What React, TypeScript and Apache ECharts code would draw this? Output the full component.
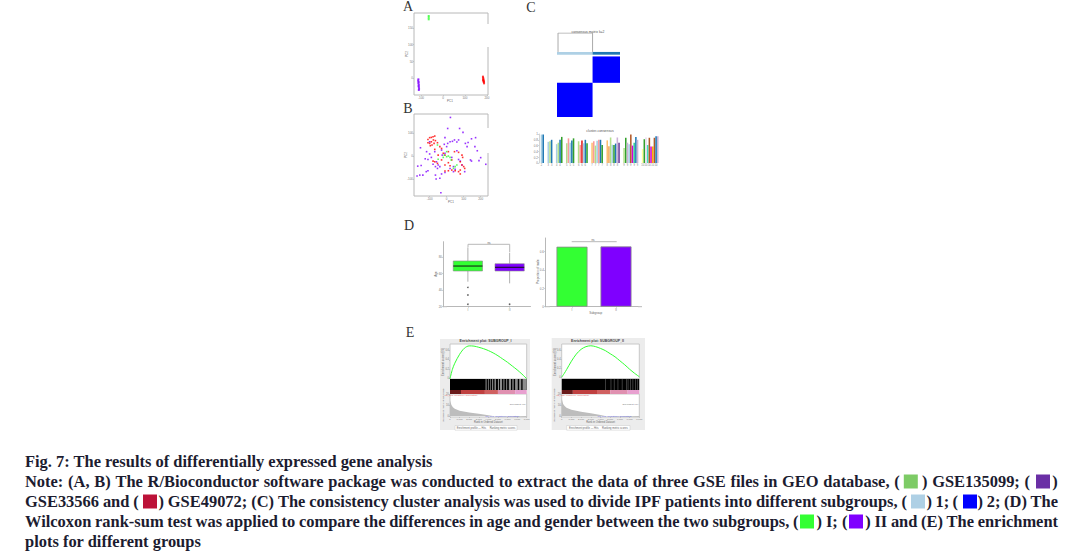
import React, { useEffect, useRef } from "react";
import * as echarts from "echarts";

// ---------- Panel A ----------
const pcaAGreen = [[-65, 186], [-65, 181], [-65, 176]];
const pcaAPurple = [[-112, -4], [-113, -8], [-111, -12], [-112, -16], [-110, -20], [-111, -24], [-110, -28], [-109, -32], [-110, -36]];
const pcaARed = [[182, 4], [183, 0], [184, -4], [185, -8], [186, -12], [187, -16], [185, -10], [183, -6]];

// ---------- Panel B ----------
const pcaBPurple = [[22,168],[6,120],[76,120],[96,103],[-10,80],[146,75],[170,80],[-154,36],[-100,62],[-14,51],[6,55],[20,62],[34,64],[46,70],[60,61],[70,70],[110,55],[126,59],[120,41],[166,41],[180,23],[140,-17],[190,-20],[200,-7],[230,-36],[146,-22],[-126,-12],[-110,-15],[-90,-6],[-118,19],[-100,9],[-70,19],[-60,-25],[-50,-39],[-66,-46],[-54,-54],[-40,-46],[-80,-36],[-170,-44],[-150,-41],[-174,-87],[-158,-83],[-140,-83],[-120,-68],[-110,-64],[-66,-83],[-40,-97],[-62,-100],[-30,-78],[-34,-160],[-10,-72],[20,-54],[40,-46],[50,-58],[70,-15],[80,-22],[30,-6],[-10,12],[-30,26],[0,41],[60,23],[-26,4],[40,-68],[90,-39],[106,-68]];
const pcaBRed = [[-110,72],[-100,80],[-90,81],[-80,84],[-70,87],[-110,58],[-100,55],[-90,62],[-78,70],[-66,67],[-96,45],[-86,48],[-74,55],[-54,58],[-40,41],[-70,29],[-30,33],[-50,4],[-20,12],[-10,4],[10,19],[46,19],[70,16],[90,4],[94,-6],[-80,-22],[-70,-25],[-54,-32],[-10,-39],[10,-29],[20,-42],[80,-25],[90,-39],[100,-46],[106,-54],[80,-61],[70,-68],[50,-64],[30,-61],[10,-64],[-10,-65],[80,-78],[-30,-17],[30,-17]];
const pcaBGreen = [[-54,48],[0,19],[-14,4],[0,-3],[10,0],[20,-6],[-20,-6],[-50,-14],[50,-46],[40,-54],[60,-39],[26,-17]];

// ---------- Panel C ----------
const clusterSizes = [35, 27];
const dendrogram = [[1, -4.6], [1, -24], [35, -24], [35, -4.6]];
const clusterConsensus = [
  [0.98, 0.98],
  [0.73, 0.75, 0.8],
  [0.65, 0.7, 0.8, 0.9],
  [0.68, 0.85, 0.7, 0.78, 0.85],
  [0.75, 0.62, 0.78, 0.68, 0.8, 0.68],
  [0.7, 0.75, 0.6, 0.77, 0.8, 0.8, 0.62],
  [0.78, 0.58, 0.88, 0.63, 0.62, 0.67, 0.88, 0.7],
  [0.52, 0.87, 0.7, 0.65, 0.98, 0.6, 0.7, 0.9, 0.8],
  [0.48, 0.82, 0.88, 0.62, 0.87, 0.57, 0.57, 0.87, 0.92, 0.92],
];
const clusterColors = [
  ["#a6cee3", "#1f78b4"],
  ["#a6cee3", "#b2df8a", "#1f78b4"],
  ["#a6cee3", "#b2df8a", "#1f78b4", "#33a02c"],
  ["#b2df8a", "#fb9a99", "#a6cee3", "#1f78b4", "#33a02c"],
  ["#b2df8a", "#fb9a99", "#e31a1c", "#a6cee3", "#1f78b4", "#33a02c"],
  ["#fdbf6f", "#fb9a99", "#b2df8a", "#a6cee3", "#fb9a99", "#1f78b4", "#33a02c"],
  ["#fdbf6f", "#f4a460", "#b2df8a", "#a6cee3", "#33a02c", "#1f78b4", "#cab2d6", "#6a3d9a"],
  ["#b2df8a", "#33a02c", "#cab2d6", "#a6cee3", "#b15928", "#d400d4", "#33cc99", "#1f78b4", "#cab2d6"],
  ["#ffff99", "#33a02c", "#e6dcee", "#44ddbb", "#b15928", "#d400d4", "#ffb000", "#b15928", "#1f78b4", "#cab2d6"],
];

// ---------- Panel D ----------
const subgroups = ["I", "II"];
const ageBoxes = [
  [0, 50.2, 63.1, 69.1, 75.2, 91.7],
  [1, 48.2, 63.1, 67.6, 71.9, 85.2],
];
const ageOutliers = [[0, 43.4], [0, 34.1], [0, 22.9], [1, 22.9]];
const maleProportion = [0.654, 0.657];
const subgroupColors = ["#33ff33", "#7f00ff"];

// ---------- Panel E ----------
const esRanks = [0, 250, 500, 1000, 1500, 2000, 2500, 3000, 3500, 4000, 4500, 5000, 5500, 6000, 6500, 7000, 7500, 8000];
const esLeft = [0, 0.2, 0.33, 0.52, 0.65, 0.7, 0.695, 0.67, 0.64, 0.6, 0.55, 0.49, 0.42, 0.35, 0.27, 0.19, 0.1, 0];
const esRight = [0, 0.08, 0.17, 0.36, 0.52, 0.63, 0.69, 0.71, 0.69, 0.65, 0.6, 0.53, 0.46, 0.37, 0.28, 0.18, 0.09, 0.01];
const metricRanks = [0, 150, 300, 500, 1000, 2000, 3000, 4000, 4469, 5000, 6000, 7000, 8000];
const metricLeft = [14, 10, 8, 6.5, 4.8, 3.2, 2.1, 0.7, 0, -0.1, -0.3, -0.5, -0.9];
const metricRight = [16, 11, 9, 7.5, 5.8, 3.8, 2.4, 0.9, 0, -0.1, -0.3, -0.5, -0.9];
const gapsLeft = [[3710,3820],[3960,4040],[4180,4250],[4390,4500],[4640,4790],[5000,5110],[5210,5430],[5570,5680],[5860,5960],[6140,6360],[6500,6640],[6790,7070],[7210,7430],[7570,8000]];
const gapsRight = [[4480,4540],[5050,5110],[5380,5440],[5770,5830],[6200,6260],[6630,6690],[6810,6870],[7060,7120],[7310,7370],[7600,7660],[7810,7870]];
const stripRanks = [[0, 1150], [1150, 3640], [3640, 5000], [5000, 6800], [6800, 8000]];
const stripColors = ["#6a1a1a", "#c04040", "#d06060", "#e090b0", "#e8a0d0"];
const rankTicks = [0, 1000, 2000, 3000, 4000, 5000, 6000, 7000, 8000];

// ---------- Caption ----------
const captionTitle = "Fig. 7: The results of differentially expressed gene analysis";
const captionRuns = [
  { y: 481.5, text: "Note: (A, B) The R/Bioconductor software package was conducted to extract the data of three GSE files in GEO database, (", from: 25, to: 899.7 },
  { y: 481.5, text: ") GSE135099; (", from: 922, to: 1030 },
  { y: 481.5, text: ")", from: 1052.3, to: 1058 },
  { y: 501.5, text: "GSE33566 and (", from: 25, to: 138.8 },
  { y: 501.5, text: ") GSE49072; (C) The consistency cluster analysis was used to divide IPF patients into different subgroups, (", from: 158.4, to: 907 },
  { y: 501.5, text: ") 1; (", from: 926.6, to: 958 },
  { y: 501.5, text: ") 2; (D) The", from: 977.5, to: 1058 },
  { y: 521.5, text: "Wilcoxon rank-sum test was applied to compare the differences in age and gender between the two subgroups, (", from: 25, to: 798.5 },
  { y: 521.5, text: ") I; (", from: 816.4, to: 847.4 },
  { y: 521.5, text: ") II and (E) The enrichment", from: 865.3, to: 1058 },
];
const captionLast = "plots for different groups";
const swatches = [
  [903.8, 474.5, "#7dcb66"], [1036, 474.5, "#6a2fa5"],
  [143, 494.5, "#bc1238"], [911, 494.5, "#aed0e5"], [963, 494.5, "#0000ff"],
  [800, 514.5, "#33ff33"], [849, 514.5, "#7f00ff"],
];

const GRAY = "#b8b8b8";
const SERIF = '"Liberation Serif"';
const SANS = '"Liberation Sans"';

function tinyLabel(extra: any = {}) {
  return { fontSize: 3, color: "#777", fontFamily: SANS, margin: 1, ...extra };
}

function buildOption() {
  const grid: any[] = [];
  const xAxis: any[] = [];
  const yAxis: any[] = [];
  const series: any[] = [];
  const g: any[] = [];

  const addGrid = (l: number, r: number, t: number, b: number, x: any, y: any, frame: any = false) => {
    const i = grid.length;
    grid.push({
      left: l, top: t, width: r - l, height: b - t, containLabel: false,
      show: !!frame, borderColor: frame || "#ccc", borderWidth: 1, backgroundColor: "transparent",
    });
    xAxis.push({ gridIndex: i, ...x });
    yAxis.push({ gridIndex: i, ...y });
    return i;
  };
  const valAxis = (min: number, max: number, ticks: number[] | null, extra: any = {}) => ({
    type: "value", min, max, splitLine: { show: false },
    axisLine: { show: false, onZero: false },
    axisTick: ticks ? { show: true, length: 1, customValues: ticks, lineStyle: { color: "#aaa", width: 0.5 } } : { show: false },
    axisLabel: ticks ? { ...tinyLabel(), customValues: ticks, show: true } : { show: false },
    ...extra,
  });
  const text = (t: string, x: number, y: number, o: any = {}, rotation = 0) => {
    g.push({
      type: "text", x, y, rotation, z: 100, silent: true,
      style: {
        text: t, x: 0, y: 0, fontSize: 3, fontFamily: SANS, fill: "#666",
        textAlign: "center", textVerticalAlign: "middle", ...o,
      },
    });
  };
  const line = (x1: number, y1: number, x2: number, y2: number, stroke = GRAY, lineWidth = 1) => {
    g.push({ type: "line", z: 90, silent: true, shape: { x1, y1, x2, y2 }, style: { stroke, lineWidth } });
  };
  const dots = (i: number, data: number[][], color: string, size = 1.6) => {
    series.push({
      type: "scatter", xAxisIndex: i, yAxisIndex: i, data, symbol: "rect", symbolSize: size,
      itemStyle: { color }, silent: true,
    });
  };

  // Panel letters
  [["A", 408, 6.5], ["B", 408, 108.5], ["C", 531, 7], ["D", 409, 225], ["E", 410, 332]].forEach(([t, x, y]: any) =>
    text(t, x, y, { fontSize: 14, fontFamily: SERIF, fill: "#333" })
  );

  // A
  const a = addGrid(414, 488, 13, 95,
    valAxis(-132, 205, [-100, 0, 100, 200]), valAxis(-51, 195, [0, 50, 100, 150]), GRAY);
  dots(a, pcaAPurple, "#7f00ff", 2);
  dots(a, pcaARed, "#ff0000", 2);
  dots(a, pcaAGreen, "#33ff33", 2);
  line(488, 24, 488, 47, "#ffffff", 2);
  text("PC1", 450, 100.5);
  text("PC2", 406.5, 54, {}, Math.PI / 2);

  // B
  const b = addGrid(414, 488, 114, 196,
    valAxis(-192, 243, [-100, 0, 100, 200]), valAxis(-174, 183, [-100, 0, 100]), GRAY);
  dots(b, pcaBPurple, "#7f00ff");
  dots(b, pcaBRed, "#ff0000");
  dots(b, pcaBGreen, "#33ff33");
  line(488, 128, 488, 153, "#ffffff", 2);
  text("PC1", 451, 202);
  text("PC2", 406, 155, {}, Math.PI / 2);

  // C heatmap
  const total = clusterSizes[0] + clusterSizes[1];
  const c = addGrid(557, 620, 33, 117,
    valAxis(0, total, null), valAxis(-24, total, null, { inverse: true }));
  const blocks = [
    [clusterSizes[0], total, 0, clusterSizes[1], "#0000ff"],
    [0, clusterSizes[0], clusterSizes[1], total, "#0000ff"],
    [0, clusterSizes[0], -4.6, -1.8, "#aed0e5"],
    [clusterSizes[0], total, -4.6, -1.8, "#1f78b4"],
  ];
  series.push({
    type: "custom", xAxisIndex: c, yAxisIndex: c, silent: true, clip: false,
    data: blocks.map((d) => d.slice(0, 4)),
    renderItem: (p: any, api: any) => {
      const p0 = api.coord([api.value(0), api.value(2)]);
      const p1 = api.coord([api.value(1), api.value(3)]);
      return {
        type: "rect", shape: { x: p0[0], y: p0[1], width: p1[0] - p0[0], height: p1[1] - p0[1] },
        style: { fill: blocks[p.dataIndex][4] },
      };
    },
  });
  series.push({
    type: "line", xAxisIndex: c, yAxisIndex: c, data: dendrogram, showSymbol: false, silent: true,
    lineStyle: { color: "#aaaaaa", width: 1 },
  });
  text("consensus matrix k=2", 588, 32.3, { fill: "#555", fontSize: 3.4 });

  // C bars
  const cats: string[] = [""];
  const barData: any[] = [null];
  clusterConsensus.forEach((vals, gi) => {
    vals.forEach((v, i) => {
      cats.push(i % 2 === 0 ? String(gi + 2) : "");
      barData.push({ value: v, itemStyle: { color: clusterColors[gi][i] } });
    });
    cats.push("", "");
    barData.push(null, null);
  });
  const cb = addGrid(539, 662, 134, 163,
    {
      type: "category", data: cats,
      axisLine: { show: false }, axisTick: { show: false },
      axisLabel: { ...tinyLabel({ fontSize: 2.6 }), interval: 0 },
    },
    { ...valAxis(0, 1, [0, 0.2, 0.4, 0.6, 0.8, 1]), axisLine: { show: true, onZero: false, lineStyle: { color: "#aaa", width: 0.5 } } });
  series.push({
    type: "bar", xAxisIndex: cb, yAxisIndex: cb, data: barData, barCategoryGap: "8%", silent: true,
  });
  text("cluster-consensus", 600, 131.3, { fill: "#555", fontSize: 3.4 });

  // D box
  const d = addGrid(447, 530.5, 241.7, 306.7,
    {
      type: "category", data: subgroups,
      axisLine: { show: true, onZero: false, lineStyle: { color: GRAY, width: 1 } },
      axisTick: { show: true, length: 1, alignWithLabel: true, lineStyle: { color: "#999", width: 0.5 } },
      axisLabel: tinyLabel(),
    },
    {
      ...valAxis(20, 98.5, [20, 40, 60, 80]), offset: 4,
      axisLine: { show: true, onZero: false, lineStyle: { color: GRAY, width: 1 } },
    });
  series.push({
    type: "custom", xAxisIndex: d, yAxisIndex: d, silent: true, data: ageBoxes,
    renderItem: (p: any, api: any) => {
      const i = api.value(0);
      const cx = api.coord([i, 0])[0];
      const w = api.size([1, 0])[0] * 0.7;
      const y = (n: number) => api.coord([i, api.value(n)])[1];
      const wh = { stroke: "#b0b0b0", lineWidth: 1 };
      return {
        type: "group",
        children: [
          { type: "line", shape: { x1: cx, y1: y(5), x2: cx, y2: y(4) }, style: wh },
          { type: "line", shape: { x1: cx, y1: y(2), x2: cx, y2: y(1) }, style: wh },
          {
            type: "rect", shape: { x: cx - w / 2, y: y(4), width: w, height: y(2) - y(4) },
            style: { fill: subgroupColors[i], stroke: "#8a8a8a", lineWidth: 0.6 },
          },
          { type: "line", shape: { x1: cx - w / 2, y1: y(3), x2: cx + w / 2, y2: y(3) }, style: { stroke: "#111", lineWidth: 1 } },
        ],
      };
    },
  });
  series.push({
    type: "scatter", xAxisIndex: d, yAxisIndex: d, data: ageOutliers, symbolSize: 1.6, silent: true,
    itemStyle: { color: "#333" },
  });
  line(443, 306.7, 447, 306.7);
  g.push({
    type: "polyline", z: 90, silent: true,
    shape: { points: [[468, 247], [468, 244.3], [509.7, 244.3], [509.7, 252]] },
    style: { stroke: GRAY, lineWidth: 1, fill: "none" },
  });
  text("ns", 489, 243);
  text("Age", 436, 274, {}, Math.PI / 2);

  // D proportion
  const e = addGrid(550, 638, 238, 306.7,
    {
      type: "category", data: subgroups,
      axisLine: { show: true, onZero: false, lineStyle: { color: GRAY, width: 1 } },
      axisTick: { show: true, length: 1, alignWithLabel: true, lineStyle: { color: "#999", width: 0.5 } },
      axisLabel: tinyLabel(),
    },
    {
      ...valAxis(0, 0.749, [0, 0.2, 0.4, 0.6]), offset: 5,
      axisLine: { show: true, onZero: false, lineStyle: { color: GRAY, width: 1 } },
    });
  series.push({
    type: "bar", xAxisIndex: e, yAxisIndex: e, barWidth: 31, silent: true,
    data: maleProportion.map((v, i) => ({
      value: v, itemStyle: { color: subgroupColors[i], borderColor: "#8a8a8a", borderWidth: 0.8 },
    })),
  });
  line(545, 306.7, 550, 306.7);
  line(638, 306.7, 642, 306.7);
  line(571.7, 241.7, 616.7, 241.7);
  text("ns", 593, 240);
  text("Subgroup", 595.7, 312.5);
  text("Proportion of male", 538, 271.7, {}, Math.PI / 2);

  // E
  const gsea = (o: any) => {
    g.push({ type: "rect", z: -10, silent: true, shape: { x: o.pl, y: o.pt, width: o.pr - o.pl, height: o.pb - o.pt }, style: { fill: "#ececec" } });
    g.push({ type: "rect", z: -9, silent: true, shape: { x: o.l, y: 344, width: o.r - o.l, height: 73 }, style: { fill: "#ffffff" } });
    const xHidden = valAxis(0, 8000, null);
    const top = addGrid(o.l, o.r, 344, o.topB, xHidden,
      valAxis(o.esMin, o.esMax, [0, 0.2, 0.4, 0.6], { axisLabel: { ...tinyLabel({ fontSize: 2.6 }), customValues: [0, 0.2, 0.4, 0.6] } }), "#c8c8c8");
    series.push({
      type: "line", xAxisIndex: top, yAxisIndex: top, showSymbol: false, silent: true,
      data: esRanks.map((r, i) => [r, o.es[i]]), smooth: 0.3,
      lineStyle: { color: "#33ff33", width: 1 },
    });
    const mid = addGrid(o.l, o.r, 379, 394, valAxis(0, 8000, null), valAxis(0, 1, null));
    const bands = [
      ...stripRanks.map((s, i) => ({ r: s, y0: 0, y1: 0.27, fill: o.strip[i] })),
      { r: [0, 8000], y0: 0.27, y1: 1, fill: "#000000" },
      ...o.gaps.map((s: number[]) => ({ r: s, y0: 0.27, y1: 1, fill: o.gapFill })),
    ];
    series.push({
      type: "custom", xAxisIndex: mid, yAxisIndex: mid, silent: true,
      data: bands.map((s) => [s.r[0], s.r[1], s.y0, s.y1]),
      renderItem: (p: any, api: any) => {
        const a0 = api.coord([api.value(0), api.value(3)]);
        const a1 = api.coord([api.value(1), api.value(2)]);
        return {
          type: "rect", shape: { x: a0[0], y: a0[1], width: a1[0] - a0[0], height: a1[1] - a0[1] },
          style: { fill: bands[p.dataIndex].fill },
        };
      },
    });
    const low = addGrid(o.l, o.r, 394, 417,
      {
        ...valAxis(0, 8000, rankTicks),
        axisLabel: { ...tinyLabel({ fontSize: 2.4 }), customValues: rankTicks, formatter: (v: number) => v.toLocaleString("en-US") },
      },
      valAxis(-0.9, 20, [0, 10, 20], { axisLabel: { ...tinyLabel({ fontSize: 2.6 }), customValues: [0, 10, 20] } }),
      "#c8c8c8");
    series.push({
      type: "line", xAxisIndex: low, yAxisIndex: low, showSymbol: false, silent: true,
      data: metricRanks.map((r, i) => [r, o.metric[i]]), lineStyle: { width: 0 },
      areaStyle: { color: "#bdbdbd", opacity: 1, origin: 0 },
    });
    const w = o.r - o.l;
    text(o.title, o.tx, 341, { fontSize: 3.5, fontWeight: "bold", fill: "#444" });
    text("Enrichment score (ES)", o.l - 7, 362, { fontSize: 2.8 }, Math.PI / 2);
    text("Ranked list metric (PreRanked)", o.l - 7, 405, { fontSize: 2.4 }, Math.PI / 2);
    text("'na_pos' (Positively Correlated)", o.l + 11, 395.3, { fontSize: 2.4, fill: "#e06060" });
    text("'na_neg' (Negatively Correlated)", o.l + w * 0.68, 416, { fontSize: 2.4, fill: "#6060e0" });
    text("Zero cross at 4469", o.r - 9, 404.5, { fontSize: 1.9 });
    text("Rank in Ordered Dataset", o.l + w / 2, 422.5, { fontSize: 2.6 });
    g.push({ type: "rect", z: 50, silent: true, shape: { x: o.ll, y: 425.5, width: o.lr - o.ll, height: 4.7 }, style: { fill: "#ffffff", stroke: "#c8c8c8", lineWidth: 0.5 } });
    text("Enrichment profile — Hits     Ranking metric scores", (o.ll + o.lr) / 2, 428, { fontSize: 2.6 });
  };
  gsea({
    title: "Enrichment plot: SUBGROUP_I", tx: 485.5, pl: 440, pr: 530, pt: 339, pb: 430, l: 450, r: 526.7,
    topB: 379, esMin: -0.006, esMax: 0.74, es: esLeft, gaps: gapsLeft, gapFill: "#8c8c8c", metric: metricLeft,
    strip: stripColors, ll: 455, lr: 517,
  });
  gsea({
    title: "Enrichment plot: SUBGROUP_II", tx: 597.5, pl: 551.7, pr: 645, pt: 338, pb: 430, l: 561.7, r: 639.3,
    topB: 378.5, esMin: -0.03, esMax: 0.75, es: esRight, gaps: gapsRight, gapFill: "#666666", metric: metricRight,
    strip: stripColors, ll: 566.7, lr: 630,
  });

  // Caption
  const FS = 16.45;
  const capStyle = { fontSize: FS, fontFamily: SERIF, fontWeight: "bold", fill: "#1c1c30", textAlign: "left" };
  const ctx = document.createElement("canvas").getContext("2d")!;
  ctx.font = `bold ${FS}px ${SERIF}`;
  text(captionTitle, 25, 461.5, capStyle);
  text(captionLast, 25, 541.5, capStyle);
  captionRuns.forEach((run) => {
    const words = run.text.split(" ");
    const widths = words.map((w) => ctx.measureText(w).width);
    const used = widths.reduce((s, v) => s + v, 0);
    const gap = words.length > 1 ? (run.to - run.from - used) / (words.length - 1) : 0;
    let x = run.from;
    words.forEach((w, i) => {
      text(w, x, run.y, capStyle);
      x += widths[i] + gap;
    });
  });
  swatches.forEach(([x, y, fill]: any) => {
    g.push({ type: "rect", z: 90, silent: true, shape: { x, y, width: 14, height: 14 }, style: { fill } });
  });

  return { animation: false, backgroundColor: "#ffffff", grid, xAxis, yAxis, series, graphic: g };
}

export default function App() {
  const ref = useRef<HTMLDivElement>(null);
  useEffect(() => {
    const chart = echarts.init(ref.current!, null, { renderer: "svg" });
    chart.setOption(buildOption() as any);
    return () => chart.dispose();
  }, []);
  return <div ref={ref} style={{ position: "absolute", left: 0, top: 0, width: 1074, height: 555 }} />;
}
